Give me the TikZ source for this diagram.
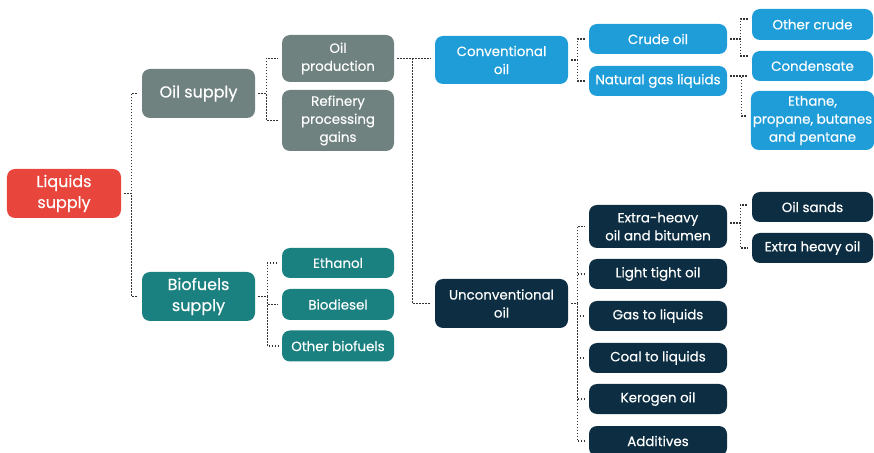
\documentclass[tikz,border=0pt]{standalone}
\usepackage{fontspec}
\setmainfont{Poppins}[FakeBold=0.35]
\definecolor{liqred}{RGB}{232,69,60}
\definecolor{oilgray}{RGB}{111,130,128}
\definecolor{bioteal}{RGB}{27,128,128}
\definecolor{convblue}{RGB}{31,157,217}
\definecolor{uncnavy}{RGB}{12,45,66}
\tikzset{
  box/.style={rounded corners=8bp, text=white, align=center, inner sep=2bp,
    font=\fontsize{13.4bp}{18bp}\selectfont},
  bigbox/.style={box, font=\fontsize{16bp}{21bp}\selectfont},
  link/.style={draw=black!80, line width=1.1bp, dash pattern=on 1.3bp off 1.7bp},
}
% elbow: [source shift]{from}{to}{stub}{target shift}
\newcommand{\elbow}[5][0bp]{\draw[link] ([xshift=3bp,yshift=#1]#2.east) -- ++(#4,0) |- ([xshift=-4bp,yshift=#5]#3.west);}
\begin{document}
\begin{tikzpicture}[x=1bp,y=-1bp]
        \useasboundingbox (0,0) rectangle (874,453);
        % root
        \node[bigbox, fill=liqred, minimum width=114bp, minimum height=49bp] (liquids) at (64,193.5) {Liquids\\supply};
        % level 1
        \node[bigbox, fill=oilgray, minimum width=113bp, minimum height=49bp] (oilsup) at (198.5,93.5) {Oil supply};
        \node[bigbox, fill=bioteal, minimum width=113bp, minimum height=49bp] (biosup) at (198.5,296.5) {Biofuels\\supply};
        % level 2
        \node[box, fill=oilgray, minimum width=112bp, minimum height=47bp] (oilprod) at (338,58.5) {Oil\\production};
        \node[box, fill=oilgray, minimum width=112bp, minimum height=61bp] (refinery) at (338,120.5) {Refinery\\processing\\gains};
        \node[box, fill=bioteal, minimum width=112bp, minimum height=30bp] (ethanol) at (338,263) {Ethanol};
        \node[box, fill=bioteal, minimum width=112bp, minimum height=31bp] (biodiesel) at (338,304.5) {Biodiesel};
        \node[box, fill=bioteal, minimum width=112bp, minimum height=31bp] (otherbio) at (338,346) {Other biofuels};
        % level 3
        \node[box, fill=convblue, minimum width=133bp, minimum height=48bp] (conv) at (501.5,60) {Conventional\\oil};
        \node[box, fill=uncnavy, minimum width=133bp, minimum height=49bp] (unconv) at (501.5,303.5) {Unconventional\\oil};
        % level 4
        \node[box, fill=convblue, minimum width=138bp, minimum height=30bp] (crude) at (658,39) {Crude oil};
        \node[box, fill=convblue, minimum width=138bp, minimum height=30bp] (ngl) at (658,81) {Natural gas liquids};
        \node[box, fill=uncnavy, minimum width=138bp, minimum height=43bp] (xheavy) at (658,226.5) {Extra-heavy\\oil and bitumen};
        \node[box, fill=uncnavy, minimum width=138bp, minimum height=30bp] (lto) at (658,274) {Light tight oil};
        \node[box, fill=uncnavy, minimum width=138bp, minimum height=30bp] (gtl) at (658,316) {Gas to liquids};
        \node[box, fill=uncnavy, minimum width=138bp, minimum height=30bp] (ctl) at (658,358) {Coal to liquids};
        \node[box, fill=uncnavy, minimum width=138bp, minimum height=30bp] (kerogen) at (658,399) {Kerogen oil};
        \node[box, fill=uncnavy, minimum width=138bp, minimum height=30bp] (additives) at (658,441) {Additives};
        % level 5
        \node[box, fill=convblue, minimum width=121bp, minimum height=31bp] (othercrude) at (812.5,24.5) {Other crude};
        \node[box, fill=convblue, minimum width=121bp, minimum height=30bp] (cond) at (812.5,66) {Condensate};
        \node[box, fill=convblue, minimum width=121bp, minimum height=59bp] (ethane) at (812.5,120.5) {Ethane,\\propane, butanes\\and pentane};
        \node[box, fill=uncnavy, minimum width=121bp, minimum height=30bp] (oilsands) at (812.5,207) {Oil sands};
        \node[box, fill=uncnavy, minimum width=121bp, minimum height=30bp] (xheavyoil) at (812.5,248) {Extra heavy oil};
        % links from root
        \elbow{liquids}{oilsup}{7}{0bp}
        \elbow{liquids}{biosup}{7}{0bp}
        % links from oil supply
        \elbow{oilsup}{oilprod}{8}{0bp}
        \elbow{oilsup}{refinery}{8}{0bp}
        % links from biofuels supply
        \elbow{biosup}{ethanol}{9}{0bp}
        \elbow{biosup}{biodiesel}{9}{0bp}
        \elbow{biosup}{otherbio}{9}{0bp}
        % links from oil production
        \elbow{oilprod}{conv}{15}{1.5bp}
        \elbow{oilprod}{unconv}{15}{0bp}
        % links from conventional oil
        \elbow{conv}{crude}{6}{0bp}
        \elbow{conv}{ngl}{6}{0bp}
        \elbow{crude}{othercrude}{10}{5.5bp}
        \elbow{crude}{cond}{10}{10bp}
        \elbow[5bp]{ngl}{cond}{11}{-10bp}
        \elbow[5bp]{ngl}{ethane}{11}{4.5bp}
        % links from unconventional oil
        \elbow{unconv}{xheavy}{6}{0bp}
        \elbow{unconv}{lto}{6}{0bp}
        \elbow{unconv}{gtl}{6}{0bp}
        \elbow{unconv}{ctl}{6}{0bp}
        \elbow{unconv}{kerogen}{6}{0bp}
        \elbow{unconv}{additives}{6}{0bp}
        \elbow[3.5bp]{xheavy}{oilsands}{10}{2bp}
        \elbow[3.5bp]{xheavy}{xheavyoil}{10}{0bp}
    \end{tikzpicture}
\end{document}
